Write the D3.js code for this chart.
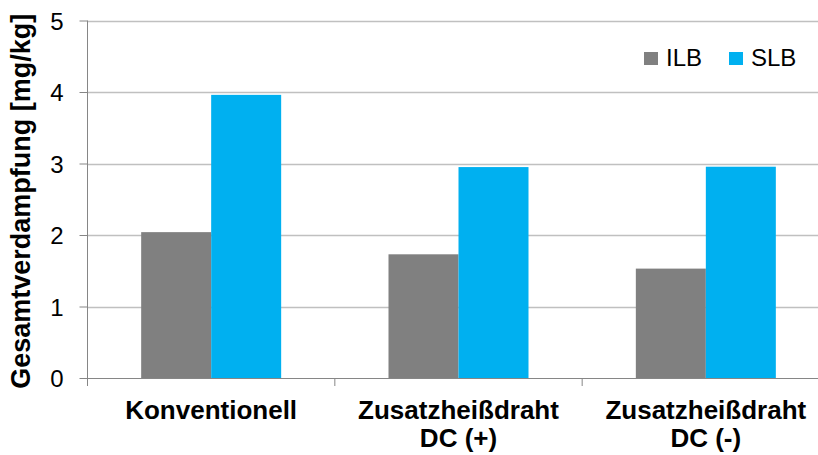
<!DOCTYPE html>
<html><head><meta charset="utf-8">
<script src="https://cdn.jsdelivr.net/npm/d3@7"></script>
<style>body{margin:0;background:#fff}svg{display:block}text{font-family:"Liberation Sans",Arial,sans-serif}</style>
</head><body><svg id="c" width="818" height="455"></svg>
<script>
const categories = [["Konventionell"], ["Zusatzheißdraht", "DC (+)"], ["Zusatzheißdraht", "DC (-)"]];
const series = ["ILB", "SLB"];
const ilbValues = [2.04, 1.73, 1.53];
const slbValues = [3.96, 2.95, 2.955];
const yTicks = [0, 1, 2, 3, 4, 5];
const colors = ["#808080", "#00b0f0"];

const svg = d3.select("#c");
const x0 = 87.5, x1 = 829.5, yTop = 20.5, yBot = 378;
const x = d3.scaleBand().domain(d3.range(categories.length)).range([x0, x1]).paddingInner(0).paddingOuter(0);
const y = d3.scaleLinear().domain([0, 5]).range([yBot, yTop]);
const bw = 70;

// gridlines
svg.append("g").selectAll("line").data(yTicks.filter(d => d > 0)).join("line")
  .attr("x1", x0).attr("x2", 818).attr("y1", d => Math.round(y(d)) + 0.5).attr("y2", d => Math.round(y(d)) + 0.5)
  .attr("stroke", "#c0c0c0").attr("stroke-width", 1.3);

// bars
const vals = [ilbValues, slbValues];
series.forEach((s, si) => {
  svg.append("g").selectAll("rect").data(vals[si]).join("rect")
    .attr("x", (d, i) => x(i) + x.bandwidth() / 2 - bw + si * bw)
    .attr("width", bw)
    .attr("y", d => y(d)).attr("height", d => yBot - y(d))
    .attr("fill", colors[si]);
});

// y axis
const yAxis = d3.axisLeft(y).tickValues(yTicks).tickSize(8).tickPadding(16).tickFormat(d3.format("d"));
const ga = svg.append("g").attr("transform", `translate(${x0},0)`).call(yAxis);
ga.select(".domain").attr("stroke", "#868686").attr("d", `M0,${yTop}V${yBot + 8}`);
ga.selectAll(".tick line").attr("stroke", "#868686");
ga.selectAll(".tick text").attr("font-size", 24).attr("fill", "#000").attr("dy", "0.36em");

// x axis
const xa = svg.append("g");
xa.append("line").attr("x1", x0).attr("x2", 818).attr("y1", yBot + 0.5).attr("y2", yBot + 0.5).attr("stroke", "#868686");
xa.selectAll("line.t").data(d3.range(categories.length + 1)).join("line").attr("class", "t")
  .attr("x1", i => x0 + i * x.bandwidth()).attr("x2", i => x0 + i * x.bandwidth())
  .attr("y1", yBot).attr("y2", yBot + 8).attr("stroke", "#868686");
const lab = xa.selectAll("text").data(categories).join("text")
  .attr("text-anchor", "middle").attr("font-size", 26).attr("font-weight", "bold").attr("fill", "#000");
lab.each(function(d, i) {
  const t = d3.select(this);
  d.forEach((line, j) => {
    t.append("tspan").attr("x", x(i) + x.bandwidth() / 2).attr("y", 419 + j * 28).text(line);
  });
});

// y title
svg.append("text").attr("transform", `translate(30,${(yTop + yBot) / 2 + 2}) rotate(-90)`)
  .attr("text-anchor", "middle").attr("font-size", 27).attr("font-weight", "bold").text("Gesamtverdampfung [mg/kg]");

// legend
const legX = [644, 729];
series.forEach((s, i) => {
  svg.append("rect").attr("x", legX[i]).attr("y", 52).attr("width", 14).attr("height", 13).attr("fill", colors[i]);
  svg.append("text").attr("x", legX[i] + 22).attr("y", 66).attr("font-size", 24).text(s);
});
</script></body></html>
